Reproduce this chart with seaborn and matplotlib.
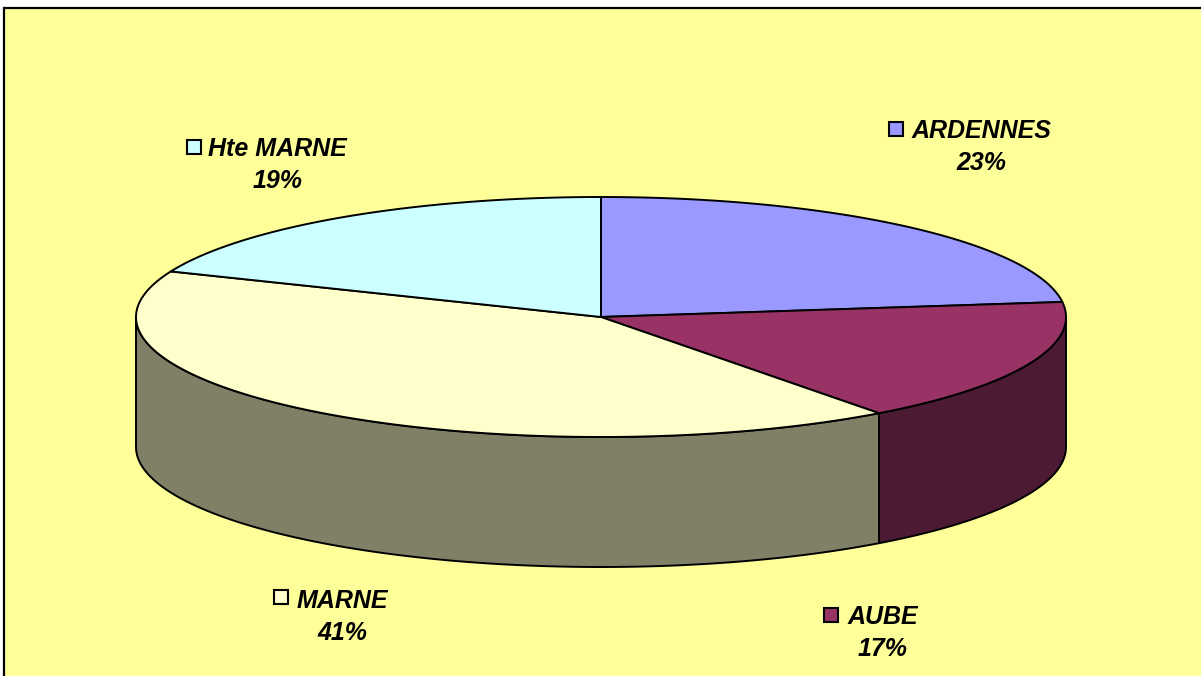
import numpy as np
import pandas as pd
import matplotlib
matplotlib.use("Agg")
import matplotlib.pyplot as plt
from matplotlib.patches import Rectangle
import seaborn as sns

categories = ["ARDENNES", "AUBE", "MARNE", "Hte MARNE"]
shares = [23.0, 16.8, 41.4, 18.8]
top_colors = ["#9999FF", "#993366", "#FFFFCC", "#CCFFFF"]
side_colors = ["#4D4D80", "#4D1A33", "#808066", "#668080"]

table = pd.DataFrame({"category": categories, "share": shares})
table["end"] = table["share"].cumsum() / table["share"].sum() * 2 * np.pi
table["start"] = table["end"].shift(fill_value=0.0)

sns.set_theme(style="white")
plt.rcParams["font.family"] = ["Liberation Sans", "DejaVu Sans"]

W, H = 1201, 676
fig = plt.figure(figsize=(W / 100, H / 100), dpi=100, facecolor="white")
ax = fig.add_axes([0, 0, 1, 1])
ax.set_xlim(0, W)
ax.set_ylim(H, 0)
ax.axis("off")

BG = "#FFFF99"
ax.add_patch(Rectangle((4, 7.5), W + 20, H + 20, facecolor=BG, edgecolor="black", lw=1.6, zorder=0))

cx, cy, rx, ry, depth = 601, 317, 465, 120, 130
EDGE = dict(edgecolor="black", linewidth=1.4, joinstyle="round")


def rim(a, b, n=240):
    t = np.linspace(a, b, n)
    return cx + rx * np.sin(t), cy - ry * np.cos(t)


# side wall: only the front half (clockwise angles pi/2 .. 3pi/2) is visible
for (_, row), col in zip(table.iterrows(), side_colors):
    a, b = max(row["start"], np.pi / 2), min(row["end"], 3 * np.pi / 2)
    if b <= a:
        continue
    x, y = rim(a, b)
    ax.fill(np.r_[x, x[::-1]], np.r_[y, y[::-1] + depth], facecolor=col, zorder=2, **EDGE)

# top face
for (_, row), col in zip(table.iterrows(), top_colors):
    x, y = rim(row["start"], row["end"])
    ax.fill(np.r_[cx, x], np.r_[cy, y], facecolor=col, zorder=3, **EDGE)

# labels: (text centre x, name y, value y, key x, key y)
label_pos = {
    "ARDENNES": (981, 131, 163.5, 895.5, 129),
    "AUBE": (883, 616.5, 649.5, 831, 615),
    "MARNE": (342, 601, 633.5, 281, 597),
    "Hte MARNE": (277.5, 148.5, 180.5, 193.5, 147),
}
font = dict(fontsize=18, fontweight="bold", fontstyle="italic", color="black",
            ha="center", va="center", zorder=5)
for cat, share, col in zip(categories, shares, top_colors):
    tx, y1, y2, kx, ky = label_pos[cat]
    ax.text(tx, y1, cat, **font)
    ax.text(tx, y2, f"{share:.0f}%", **font)
    ax.add_patch(Rectangle((kx - 7, ky - 7), 14, 14, facecolor=col, edgecolor="black", lw=1.5, zorder=5))

fig.savefig("out.png", dpi=100, facecolor="white")
